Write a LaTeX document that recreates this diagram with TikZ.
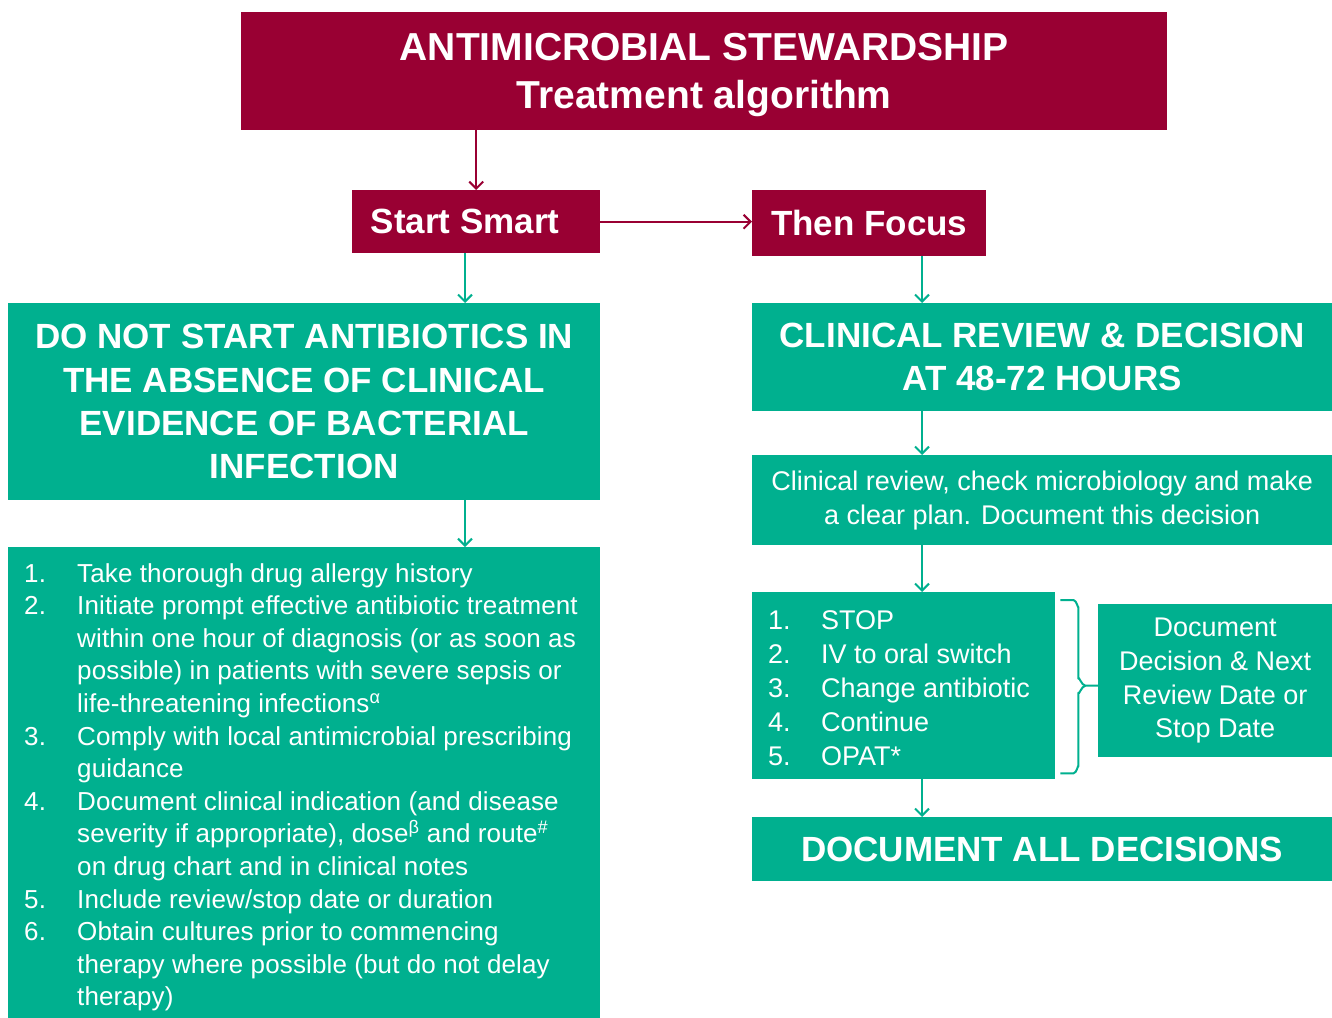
\documentclass[tikz,border=0pt]{standalone}
\usepackage{fontspec}
\setmainfont{Liberation Sans}
\usetikzlibrary{arrows.meta,calc}
\definecolor{maroon}{RGB}{153,0,51}
\definecolor{nhsteal}{RGB}{0,176,143}
\begin{document}
\begin{tikzpicture}[x=1pt,y=-1pt,
  redbox/.style={fill=maroon, text=white, inner sep=0pt, anchor=north west, align=center},
  greenbox/.style={fill=nhsteal, text=white, inner sep=0pt, anchor=north west, align=center},
  listtext/.style={text=white, inner sep=0pt, anchor=north west, align=left},
  head/.style={font=\bfseries\fontsize{35}{43.3}\selectfont},
  body/.style={font=\fontsize{27}{33.8}\selectfont},
  marr/.style={draw=maroon, line width=2.2pt, -{Straight Barb[length=7pt,width=14pt,line width=2pt]}},
  garr/.style={draw=nhsteal, line width=2.2pt, -{Straight Barb[length=7pt,width=14pt,line width=2pt]}},
  bracestyle/.style={draw=nhsteal, line width=2pt, line join=round}
]
\useasboundingbox (0,0) rectangle (1332,1017);

% boxes
\node[redbox, minimum width=926pt, minimum height=118pt] (title) at (241,12) {};
\node[text=white, inner sep=0pt, align=center, yshift=-4pt, font=\bfseries\fontsize{39}{48}\selectfont] (titletext) at (title.center) {ANTIMICROBIAL STEWARDSHIP\\Treatment algorithm};
\node[redbox, minimum width=248pt, minimum height=63pt, head] (start) at (352,190) {Start Smart\hspace*{22pt}};
\node[redbox, minimum width=234pt, minimum height=66pt, head] (then) at (752,190) {Then Focus};

\node[greenbox, minimum width=592pt, minimum height=197pt, head] (left1) at (8,303) {DO NOT START ANTIBIOTICS IN\\THE ABSENCE OF CLINICAL\\EVIDENCE OF BACTERIAL\\INFECTION};
\node[greenbox, minimum width=592pt, minimum height=480pt] (left2) at (8,547) {};
\node[listtext, font=\fontsize{26}{32.6}\selectfont\addfontfeature{LetterSpace=0.5}] (left2text) at (24,559) {%
\begin{tabular}{@{}p{53pt}@{}l@{}}
1. & Take thorough drug allergy history\\
2. & Initiate prompt effective antibiotic treatment\\
   & within one hour of diagnosis (or as soon as\\
   & possible) in patients with severe sepsis or\\
   & life-threatening infections\textsuperscript{α}\\
3. & Comply with local antimicrobial prescribing\\
   & guidance\\
4. & Document clinical indication (and disease\\
   & severity if appropriate), dose\textsuperscript{β} and route\textsuperscript{\#}\\
   & on drug chart and in clinical notes\\
5. & Include review/stop date or duration\\
6. & Obtain cultures prior to commencing\\
   & therapy where possible (but do not delay\\
   & therapy)
\end{tabular}};

\node[greenbox, minimum width=580pt, minimum height=108pt, head] (right1) at (752,303) {CLINICAL REVIEW \& DECISION\\AT 48-72 HOURS};
\node[greenbox, minimum width=580pt, minimum height=90pt, body] (right2) at (752,455) {Clinical review, check microbiology and make\\a clear plan. Document this decision};
\node[greenbox, minimum width=303pt, minimum height=187pt] (list) at (752,592) {};
\node[listtext, font=\fontsize{27}{34}\selectfont] (listtext) at (768,605) {%
\begin{tabular}{@{}p{53pt}@{}l@{}}
1. & STOP\\
2. & IV to oral switch\\
3. & Change antibiotic\\
4. & Continue\\
5. & OPAT*
\end{tabular}};
\node[greenbox, minimum width=234pt, minimum height=153pt, body] (doc) at (1098,604) {Document\\Decision \& Next\\Review Date or\\Stop Date};
\node[greenbox, minimum width=580pt, minimum height=64pt, head] (final) at (752,817) {DOCUMENT ALL DECISIONS};

% connectors
\coordinate (lx) at (465,0);
\coordinate (rx) at (922,0);
\draw[marr] (title.south -| start.north) -- (start.north);
\draw[marr] (start.east) -- (start.east -| then.west);
\draw[garr] (start.south -| lx) -- (left1.north -| lx);
\draw[garr] (left1.south -| lx) -- (left2.north -| lx);
\draw[garr] (then.south -| rx) -- (right1.north -| rx);
\draw[garr] (right1.south -| rx) -- (right2.north -| rx);
\draw[garr] (right2.south -| rx) -- (list.north -| rx);
\draw[garr] (list.south -| rx) -- (final.north -| rx);

% brace
\draw[bracestyle] ($(list.north east)+(5,8)$) -- ($(list.north east)+(18,8)$)
  to[out=0,in=-90] ($(list.north east)+(23,15)$) -- ($(list.east)+(23,-7)$)
  to[out=90,in=180] ($(list.east)+(30,0)$) -- (list.east -| doc.west);
\draw[bracestyle] ($(list.east)+(30,0)$) to[out=180,in=-90] ($(list.east)+(23,7)$)
  -- ($(list.south east)+(23,-13)$) to[out=90,in=0] ($(list.south east)+(18,-6)$)
  -- ($(list.south east)+(5,-6)$);
\end{tikzpicture}
\end{document}
